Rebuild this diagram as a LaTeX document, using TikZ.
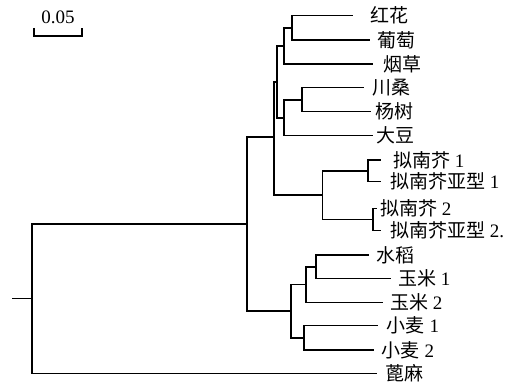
\documentclass[tikz,border=0pt]{standalone}
\usepackage{fontspec}
\setmainfont{Liberation Serif}
\newfontfamily\zh{Noto Sans CJK SC}
\begin{document}
\begin{tikzpicture}[x=1pt,y=-1pt,
  br/.style={line width=1.7pt, line cap=rect},
  lab/.style={anchor=west, inner sep=0pt, font=\fontsize{19}{19}\selectfont}]
\useasboundingbox (0,0) rectangle (513,382);
% leaf ends
\coordinate (e1) at (352,15.5);
\coordinate (e2) at (369,40);
\coordinate (e3) at (372,64);
\coordinate (e4) at (363,87.5);
\coordinate (e5) at (370,111.5);
\coordinate (e6) at (372,135.5);
\coordinate (e7) at (380,160);
\coordinate (e8) at (380,181.5);
\coordinate (e9) at (376,208.5);
\coordinate (e10) at (380,230.5);
\coordinate (e11) at (368.3,255);
\coordinate (e12) at (390,278.5);
\coordinate (e13) at (381.7,302.5);
\coordinate (e14) at (376.7,325.5);
\coordinate (e15) at (372.7,350);
\coordinate (e16) at (375.7,373.5);
% internal nodes
\coordinate (nrg) at (292,27.85);
\coordinate (nrgt) at (284,45.9);
\coordinate (nms) at (302,99.7);
\coordinate (nmsd) at (284,117.7);
\coordinate (nA) at (277,81.8);
\coordinate (nB) at (274,137);
\coordinate (na1) at (367.7,170.8);
\coordinate (na2) at (372.7,219.5);
\coordinate (narab) at (322.5,195.2);
\coordinate (noz) at (316,266.7);
\coordinate (nozm) at (305.7,284.5);
\coordinate (nwh) at (304,337.8);
\coordinate (ngr) at (291,311);
\coordinate (nup) at (246.7,224);
\coordinate (root) at (32.3,298.5);
\coordinate (stem) at (13.3,298.5);
% branches
\draw[br] (nrg) |- (e1); \draw[br] (nrg) |- (e2);
\draw[br] (nrgt) |- (nrg); \draw[br] (nrgt) |- (e3);
\draw[br] (nms) |- (e4); \draw[br] (nms) |- (e5);
\draw[br] (nmsd) |- (nms); \draw[br] (nmsd) |- (e6);
\draw[br] (nA) |- (nrgt); \draw[br] (nA) |- (nmsd);
\draw[br] (na1) |- (e7); \draw[br] (na1) |- (e8);
\draw[br] (na2) |- (e9); \draw[br] (na2) |- (e10);
\draw[br] (narab) |- (na1); \draw[br] (narab) |- (na2);
\draw[br] (nB) |- (nA); \draw[br] (nB) |- (narab);
\draw[br] (noz) |- (e11); \draw[br] (noz) |- (e12);
\draw[br] (nozm) |- (noz); \draw[br] (nozm) |- (e13);
\draw[br] (nwh) |- (e14); \draw[br] (nwh) |- (e15);
\draw[br] (ngr) |- (nozm); \draw[br] (ngr) |- (nwh);
\draw[br] (nup) |- (nB); \draw[br] (nup) |- (ngr);
\draw[br] (root) |- (nup); \draw[br] (root) |- (e16);
\draw[br] (stem) -- (root);
% labels
\node[lab] (l1) at (370,15.7) {\zh 红花};
\node[lab] (l2) at (377,40) {\zh 葡萄};
\node[lab] (l3) at (383,64) {\zh 烟草};
\node[lab] (l4) at (372,87.7) {\zh 川桑};
\node[lab] (l5) at (375,111.7) {\zh 杨树};
\node[lab] (l6) at (376,135.7) {\zh 大豆};
\node[lab] (l7) at (393,160) {{\zh 拟南芥} 1};
\node[lab] (l8) at (390,181.7) {{\zh 拟南芥亚型} 1};
\node[lab] (l9) at (380,208.3) {{\zh 拟南芥} 2};
\node[lab] (l10) at (390,230.7) {{\zh 拟南芥亚型} 2.};
\node[lab] (l11) at (376.7,255) {\zh 水稻};
\node[lab] (l12) at (398,278.3) {{\zh 玉米} 1};
\node[lab] (l13) at (390,302.3) {{\zh 玉米} 2};
\node[lab] (l14) at (386.7,325.7) {{\zh 小麦} 1};
\node[lab] (l15) at (381.7,350) {{\zh 小麦} 2};
\node[lab] (l16) at (385,373.3) {\zh 蓖麻};
% scale bar
\coordinate (s1) at (34,28);
\coordinate (s2) at (82,28);
\draw[line width=1.7pt] (s1) -- ++(0,8) -| (s2);
\node[inner sep=0pt, font=\fontsize{19}{19}\selectfont] (sl) at (58,17) {0.05};
\end{tikzpicture}
\end{document}
